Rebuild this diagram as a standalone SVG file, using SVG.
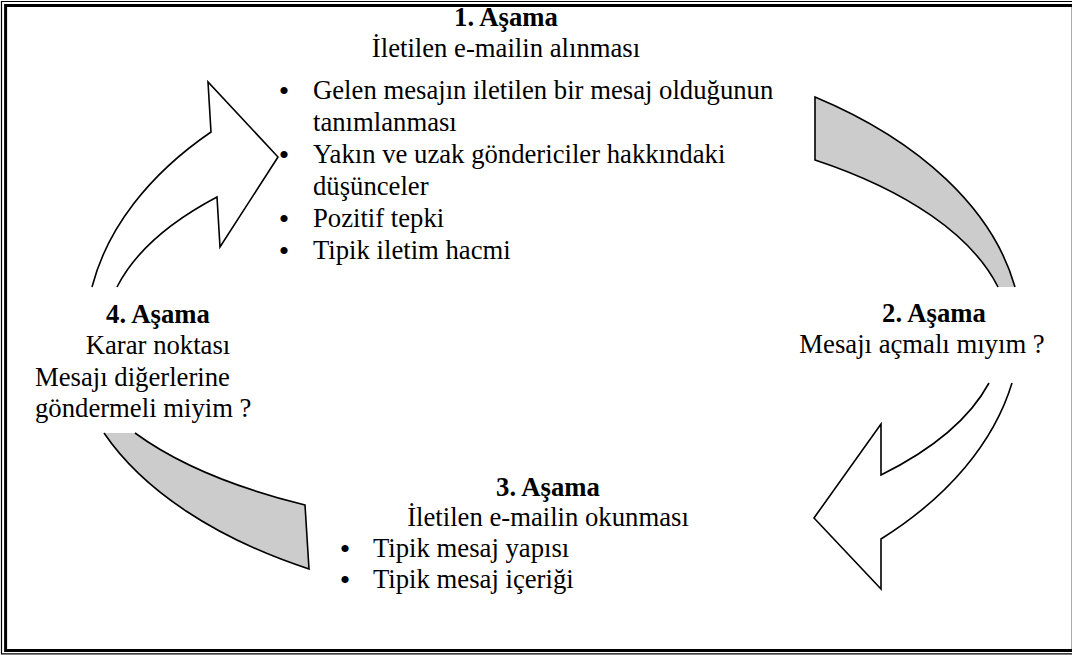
<svg xmlns="http://www.w3.org/2000/svg" width="1072" height="655" viewBox="0 0 1072 655">
<style>
.t{font-family:"Liberation Serif","Times New Roman",serif;font-size:26.7px;fill:#000}
.b{font-weight:bold}
.c{text-anchor:middle}
.bu{font-family:"Liberation Serif","Times New Roman",serif;font-size:30px;text-anchor:middle;fill:#000}
.white{fill:#fff;stroke:none}
.gray{fill:#cccccc;stroke:none}
.ln{fill:none;stroke:#000;stroke-width:1.6;stroke-linejoin:miter}
</style>
<rect width="1072" height="655" fill="#fff"/>
<g id="frame" fill="none">
<path d="M1072,1.5 H1.5 V653.8 H1072" stroke="#000" stroke-width="1.2"/>
<path d="M1072,5.6 H5.6 V650.5 H1072" stroke="#000" stroke-width="3"/>
<line x1="1071.5" y1="7" x2="1071.5" y2="649" stroke="#aaa" stroke-width="1"/>
</g>
<g id="connectors">
<g id="arrow-4-1">
<path class="white" d="M92,287 A460,297 0 0 1 211,132 L208,82 L278,157 L220,247 L217,197 A441,208 0 0 0 117,287 Z"/>
<path class="ln" d="M92,287 A460,297 0 0 1 211,132 L208,82 L278,157 L220,247 L217,197 A441,208 0 0 0 117,287"/>
</g>
<g id="arc-1-2">
<path class="gray" d="M815,97 A476,290 0 0 1 1015,287 L998,287 A464,216 0 0 0 815,160 Z"/>
<path class="ln" d="M998,287 A464,216 0 0 0 815,160 L815,97 A476,290 0 0 1 1015,287"/>
</g>
<g id="arrow-2-3">
<path class="white" d="M1012,383 A460,297 0 0 1 881,539 L881,589 L814,518 L881,424 L881,475 A441,208 0 0 0 989,383 Z"/>
<path class="ln" d="M1012,383 A460,297 0 0 1 881,539 L881,589 L814,518 L881,424 L881,475 A441,208 0 0 0 989,383"/>
</g>
<g id="arc-3-4">
<path class="gray" d="M104,433 A474,269 0 0 0 309,569 L305,505 A473,197 0 0 1 135,433 Z"/>
<path class="ln" d="M104,433 A474,269 0 0 0 309,569 L305,505 A473,197 0 0 1 135,433"/>
</g>
</g>
<g id="stage1">
<text class="t b c" x="506" y="26">1. Aşama</text>
<text class="t c" x="506" y="57">İletilen e-mailin alınması</text>
<text class="bu" x="284" y="101">•</text>
<text class="t" x="313" y="99">Gelen mesajın iletilen bir mesaj olduğunun</text>
<text class="t" x="313" y="131">tanımlanması</text>
<text class="bu" x="284" y="165">•</text>
<text class="t" x="313" y="163">Yakın ve uzak göndericiler hakkındaki</text>
<text class="t" x="313" y="195">düşünceler</text>
<text class="bu" x="284" y="229">•</text>
<text class="t" x="313" y="227">Pozitif tepki</text>
<text class="bu" x="284" y="261">•</text>
<text class="t" x="313" y="259">Tipik iletim hacmi</text>
</g>
<g id="stage2">
<text class="t b c" x="934" y="322">2. Aşama</text>
<text class="t c" x="922" y="353">Mesajı açmalı mıyım ?</text>
</g>
<g id="stage3">
<text class="t b c" x="548" y="496">3. Aşama</text>
<text class="t c" x="548" y="526">İletilen e-mailin okunması</text>
<text class="bu" x="345" y="559">•</text>
<text class="t" x="373" y="557">Tipik mesaj yapısı</text>
<text class="bu" x="345" y="590">•</text>
<text class="t" x="373" y="588">Tipik mesaj içeriği</text>
</g>
<g id="stage4">
<text class="t b c" x="158" y="323">4. Aşama</text>
<text class="t c" x="158" y="354">Karar noktası</text>
<text class="t" x="35" y="386">Mesajı diğerlerine</text>
<text class="t" x="35" y="417">göndermeli miyim ?</text>
</g>
</svg>
